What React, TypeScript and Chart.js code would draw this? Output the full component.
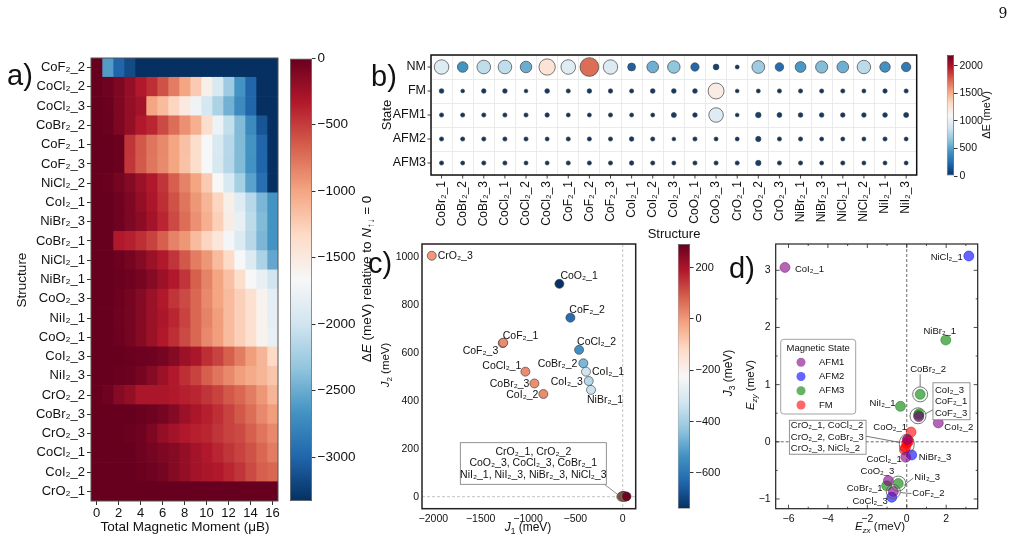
import React, { useEffect, useRef } from 'react';
import { Chart, registerables } from 'chart.js';
Chart.register(...registerables);

const W = 1027, H = 541;
const FONT = '"Liberation Sans", Arial, Helvetica, "DejaVu Sans", sans-serif';
Chart.defaults.font.family = FONT;
Chart.defaults.color = '#111';

// ---------------- panel a: heatmap ----------------
const heatRows = ['CoF₂_2','CoCl₂_2','CoCl₂_3','CoBr₂_2','CoF₂_1','CoF₂_3','NiCl₂_2','CoI₂_1','NiBr₂_3','CoBr₂_1','NiCl₂_1','NiBr₂_1','CoO₂_3','NiI₂_1','CoO₂_1','CoI₂_3','NiI₂_3','CrO₂_2','CoBr₂_3','CrO₂_3','CoCl₂_1','CoI₂_2','CrO₂_1'];
const moments = [0,1,2,3,4,5,6,7,8,9,10,11,12,13,14,15,16];
const momentTicks = [0,2,4,6,8,10,12,14,16];
const heatValues = [
  [0,-2600,-3000,-3165,-3330,-3330,-3330,-3330,-3330,-3330,-3330,-3330,-3330,-3330,-3330,-3330,-3330],
  [0,-33,-100,-200,-333,-433,-600,-800,-1000,-1233,-1566,-1930,-2265,-2665,-3000,-3330,-3330],
  [0,-10,-100,-200,-266,-1000,-1133,-1300,-1500,-1730,-1965,-2200,-2465,-2730,-3000,-3330,-3330],
  [0,-10,-100,-200,-333,-400,-566,-733,-900,-1066,-1366,-1765,-2065,-2400,-2730,-3100,-3330],
  [0,0,-10,-466,-633,-766,-866,-1000,-1166,-1366,-1665,-1930,-2130,-2400,-2665,-3000,-3330],
  [0,0,-10,-470,-640,-770,-870,-1000,-1170,-1370,-1670,-1940,-2140,-2400,-2670,-3000,-3330],
  [0,-10,-67,-133,-233,-333,-466,-666,-833,-1000,-1233,-1665,-1930,-2230,-2565,-2930,-3330],
  [0,0,-33,-100,-200,-300,-433,-600,-766,-933,-1100,-1300,-1566,-1865,-2130,-2430,-2665],
  [0,0,-33,-100,-166,-266,-400,-566,-733,-900,-1066,-1266,-1530,-1800,-2100,-2400,-2665],
  [0,0,-333,-366,-433,-533,-666,-833,-933,-1133,-1300,-1466,-1700,-1900,-2130,-2430,-2665],
  [0,0,-20,-67,-133,-233,-333,-466,-633,-800,-933,-1133,-1333,-1665,-1900,-2200,-2530],
  [0,0,-10,-33,-67,-133,-233,-333,-466,-666,-833,-1000,-1166,-1366,-1665,-1800,-2000],
  [0,0,-20,-67,-133,-233,-333,-466,-566,-700,-866,-1000,-1133,-1266,-1400,-1600,-1830],
  [0,0,-33,-67,-133,-233,-300,-400,-533,-700,-833,-966,-1133,-1266,-1400,-1600,-1830],
  [0,0,-20,-67,-133,-233,-333,-433,-566,-700,-866,-966,-1133,-1266,-1400,-1600,-1800],
  [0,0,0,-10,-20,-33,-67,-133,-233,-300,-433,-533,-666,-800,-966,-1100,-1333],
  [0,0,-10,-20,-67,-133,-233,-333,-433,-533,-666,-766,-866,-966,-1033,-1100,-1200],
  [0,-33,-133,-200,-300,-300,-300,-333,-366,-400,-466,-533,-633,-700,-800,-933,-1100],
  [0,0,0,0,-10,-33,-67,-133,-233,-300,-366,-433,-533,-633,-733,-866,-966],
  [0,0,0,-10,-33,-100,-200,-266,-333,-366,-400,-466,-533,-566,-666,-766,-866],
  [0,0,0,0,-33,-67,-100,-133,-200,-266,-333,-400,-466,-533,-600,-700,-800],
  [0,0,0,0,-10,-33,-67,-133,-200,-266,-300,-333,-400,-466,-566,-666,-700],
  [0,0,0,0,0,0,0,0,0,0,0,0,0,0,0,0,0],
];
const heatMin = -3330, heatMax = 0;
const heatCbTicks = [0,-500,-1000,-1500,-2000,-2500,-3000];

// ---------------- panel b: bubbles ----------------
const bStructures = ['CoBr₂_1','CoBr₂_2','CoBr₂_3','CoCl₂_1','CoCl₂_2','CoCl₂_3','CoF₂_1','CoF₂_2','CoF₂_3','CoI₂_1','CoI₂_2','CoI₂_3','CoO₂_1','CoO₂_3','CrO₂_1','CrO₂_2','CrO₂_3','NiBr₂_1','NiBr₂_3','NiCl₂_1','NiCl₂_2','NiI₂_1','NiI₂_3'];
const bStates = ['NM','FM','AFM1','AFM2','AFM3'];
const bNM   = [950,440,820,820,550,1250,960,1710,940,200,560,660,230,80,20,700,250,460,620,560,800,430,320];
const bFM   = [40,15,35,35,15,40,25,35,30,25,40,40,40,1180,15,20,25,25,25,25,20,30,25];
const bAFM1 = [25,25,25,25,25,30,20,20,25,20,20,50,35,950,15,70,45,40,35,35,35,40,50];
const bAFM2 = [25,25,25,25,25,20,25,25,25,35,25,15,25,20,20,60,25,25,20,20,20,25,20];
const bAFM3 = [25,20,25,25,20,20,25,25,25,30,25,20,25,25,25,65,25,25,20,25,20,20,20];
const bMin = 0, bMax = 2195;
const bCbTicks = [0,500,1000,1500,2000];

// ---------------- panel c: J1 vs J2 ----------------
const cNames = ['CrO₂_3','CoO₂_1','CoF₂_2','CoCl₂_2','CoBr₂_2','CoI₂_1','CoI₂_3','NiBr₂_1','CoF₂_1','CoF₂_3','CoCl₂_1','CoBr₂_3','CoI₂_2','NiCl₂_3','CrO₂_2','CoO₂_3','CoCl₂_3','CoBr₂_1','NiI₂_1','NiI₂_3','NiBr₂_3','CrO₂_1'];
const cJ1 = [-2017,-669,-553,-461,-416,-388,-359,-335,-1267,-1262,-1028,-933,-838,-15,-8,0,5,10,15,20,25,40];
const cJ2 = [1004,887,746,612,556,521,482,445,640,642,521,472,428,0,2,1,3,0,2,1,0,1];
const cJ3 = [0,-735,-620,-540,-460,-327,-370,-338,20,20,20,15,20,-10,0,10,-20,20,0,30,60,280];
const cJ3Min = -740, cJ3Max = 292;
const cJ3Ticks = [200,0,-200,-400,-600];
const cXTicks = [-2000,-1500,-1000,-500,0];
const cYTicks = [0,200,400,600,800,1000];
const cBoxLines = ['CrO₂_1, CrO₂_2','CoO₂_3, CoCl₂_3, CoBr₂_1','NiI₂_1, NiI₂_3, NiBr₂_3, NiCl₂_3'];

// ---------------- panel d: Ezx vs Ezy ----------------
const dStates = ['AFM1','AFM2','AFM3','FM'];
const dNames = ['CoI₂_1','NiCl₂_1','NiBr₂_1','CoBr₂_2','NiI₂_1','CoI₂_3','CoF₂_1','CoF₂_3','CoI₂_2','CoO₂_1','CrO₂_1','CoCl₂_2','CrO₂_2','CoBr₂_3','CrO₂_3','NiCl₂_2','CoCl₂_1','NiBr₂_3','CoO₂_3','CoBr₂_1','NiI₂_3','CoF₂_2','CoCl₂_3'];
const dState = ['AFM1','AFM2','AFM3','AFM3','AFM3','AFM3','AFM3','AFM1','AFM1','FM','FM','FM','FM','FM','FM','AFM1','AFM1','AFM2','AFM1','AFM3','AFM3','AFM1','AFM2'];
const dEzx = [-6.18,3.15,1.98,0.68,-0.32,0.62,0.6,0.61,1.6,0.22,0.05,0.08,0.0,-0.06,-0.12,0.03,-0.05,0.25,-0.93,-1.02,-0.43,-0.68,-0.76];
const dEzy = [3.05,3.25,1.78,0.83,0.62,0.49,0.46,0.44,0.33,0.17,0.03,0.0,-0.03,-0.1,-0.14,0.04,-0.27,-0.23,-0.68,-0.77,-0.73,-0.87,-0.97];
const dXTicks = [-6,-4,-2,0,2];
const dYTicks = [-1,0,1,2,3];
const dStateColors = ['rgba(128,0,128,0.6)','rgba(0,0,255,0.6)','rgba(0,128,0,0.6)','rgba(255,0,0,0.6)'];
const dBoxA = ['CoI₂_3','CoF₂_1','CoF₂_3'];
const dBoxB = ['CrO₂_1, CoCl₂_2','CrO₂_2, CoBr₂_3','CrO₂_3, NiCl₂_2'];

// ---------------- helpers ----------------
const RDBU = [[103,0,31],[178,24,43],[214,96,77],[244,165,130],[253,219,199],[247,247,247],[209,229,240],[146,197,222],[67,147,195],[33,102,172],[5,48,97]];
function rdbu(s: number): string {
  s = Math.max(0, Math.min(1, s));
  const p = s * 10; const i = Math.min(9, Math.floor(p)); const f = p - i;
  const a = RDBU[i], b = RDBU[i + 1];
  return `rgb(${Math.round(a[0] + (b[0] - a[0]) * f)},${Math.round(a[1] + (b[1] - a[1]) * f)},${Math.round(a[2] + (b[2] - a[2]) * f)})`;
}
const fmt = (v: any) => String(v).replace('-', '−');
const fitY = (w: number) => (s: any) => { s.width = w; s.paddingTop = 0; s.paddingBottom = 0; s.paddingLeft = 0; s.paddingRight = 0; };
const fitX = (h: number) => (s: any) => { s.height = h; s.paddingTop = 0; s.paddingBottom = 0; s.paddingLeft = 0; s.paddingRight = 0; };
const setTicks = (vals: number[]) => (s: any) => { s.ticks = vals.map(v => ({ value: v })); };
const pad = (L: number, T: number, R: number, B: number, yw: number, xh: number, yRight = false) => ({
  left: yRight ? L : L - yw, top: T, right: yRight ? W - R - yw : W - R, bottom: H - B - xh,
});
const base = (padding: any) => ({
  responsive: false, animation: false, events: [],
  layout: { padding, autoPadding: false },
  plugins: { legend: { display: false }, tooltip: { enabled: false } },
});
function frame(color: string, width: number) {
  return { id: 'frame', afterDraw(chart: any) {
    const a = chart.chartArea, ctx = chart.ctx;
    ctx.save(); ctx.strokeStyle = color; ctx.lineWidth = width;
    ctx.strokeRect(a.left, a.top, a.right - a.left, a.bottom - a.top); ctx.restore();
  } };
}
function txt(ctx: any, s: string, x: number, y: number, size: number, align = 'left', color = '#111') {
  ctx.font = `${size}px ${FONT}`; ctx.fillStyle = color; ctx.textAlign = align; ctx.textBaseline = 'middle';
  ctx.fillText(s, x, y);
}
function seg(ctx: any, x1: number, y1: number, x2: number, y2: number) {
  ctx.beginPath(); ctx.moveTo(x1, y1); ctx.lineTo(x2, y2); ctx.stroke();
}
const gradientFill = (ctx: any) => {
  const ca = ctx.chart.chartArea;
  if (!ca) return '#ccc';
  const g = ctx.chart.ctx.createLinearGradient(0, ca.top, 0, ca.bottom);
  RDBU.forEach((c, i) => g.addColorStop(i / 10, `rgb(${c.join(',')})`));
  return g;
};
function colorbar(L: number, T: number, R: number, B: number, min: number, max: number, ticks: number[], fs: number) {
  return {
    type: 'bar',
    data: { labels: ['cb'], datasets: [{ data: [[min, max]], backgroundColor: gradientFill, borderColor: '#555', borderWidth: 0.8, borderSkipped: false, barPercentage: 1, categoryPercentage: 1, inflateAmount: 0 }] },
    options: {
      ...base(pad(L, T, R, B, 50, 0, true)),
      scales: {
        x: { display: false },
        y: { position: 'right', min, max, afterBuildTicks: setTicks(ticks), afterFit: fitY(50),
          grid: { drawOnChartArea: false, drawTicks: true, tickLength: 3.5, color: '#333' }, border: { display: false },
          ticks: { font: { size: fs }, padding: 2, color: '#111', callback: fmt } },
      },
    },
  };
}

// ---------------- chart configs ----------------
function makeHeat() {
  return {
    type: 'bar',
    data: {
      labels: heatRows,
      datasets: moments.map((m, c) => ({
        data: heatRows.map(() => [m - 0.5, m + 0.5]),
        backgroundColor: heatRows.map((_, r) => rdbu(heatValues[r][c] / heatMin)),
        borderWidth: 0, grouped: false, barPercentage: 1, categoryPercentage: 1,
      })),
    },
    options: {
      ...base(pad(91, 58, 278, 501, 86, 30)),
      indexAxis: 'y',
      scales: {
        x: { type: 'linear', min: -0.5, max: 16.5, afterBuildTicks: setTicks(momentTicks), afterFit: fitX(30),
          grid: { drawOnChartArea: false, drawTicks: true, tickLength: 4, color: '#333' }, border: { display: false },
          ticks: { font: { size: 13 }, padding: 1, maxRotation: 0, color: '#111' } },
        y: { type: 'category', offset: true, afterFit: fitY(86),
          grid: { offset: false, drawOnChartArea: false, drawTicks: true, tickLength: 4, color: '#333' }, border: { display: false },
          ticks: { font: { size: 13 }, padding: 2, autoSkip: false, color: '#111' } },
      },
    },
    plugins: [frame('#555', 1)],
  };
}

function makeBubble() {
  const rows = [bNM, bFM, bAFM1, bAFM2, bAFM3];
  return {
    type: 'bubble',
    data: {
      datasets: rows.map((vals, si) => ({
        data: vals.map((v, i) => ({ x: bStructures[i], y: bStates[si], r: 1.1 + 0.2 * Math.sqrt(v), v })),
        backgroundColor: (ctx: any) => rdbu(1 - (ctx.raw ? ctx.raw.v : 0) / bMax),
        borderColor: '#444', borderWidth: 0.7,
      })),
    },
    options: {
      ...base(pad(431, 55, 916.7, 175, 45, 60)),
      scales: {
        x: { type: 'category', labels: bStructures, offset: true, afterFit: fitX(60),
          grid: { offset: true, drawTicks: false, color: '#e6e6e6', lineWidth: 0.8 }, border: { display: false },
          ticks: { autoSkip: false, minRotation: 90, maxRotation: 90, font: { size: 12 }, padding: 6, color: '#111' } },
        y: { type: 'category', labels: bStates, offset: true, afterFit: fitY(45),
          grid: { offset: true, drawTicks: false, color: '#e6e6e6', lineWidth: 0.8 }, border: { display: false },
          ticks: { font: { size: 12.5 }, padding: 5, color: '#111' } },
      },
    },
    plugins: [frame('#111', 1.5), { id: 'bticks', afterDraw(chart: any) {
      const { ctx, chartArea: a, scales: { x, y } } = chart;
      ctx.save(); ctx.strokeStyle = '#111'; ctx.lineWidth = 0.8;
      bStructures.forEach((_, i) => { const px = x.getPixelForValue(i); seg(ctx, px, a.bottom, px, a.bottom + 3.5); });
      bStates.forEach((_, i) => { const py = y.getPixelForValue(i); seg(ctx, a.left - 3.5, py, a.left, py); });
      ctx.restore();
    } }],
  };
}

const cLabelPos: any = {
  'CrO₂_3': [6, 0, 'left'], 'CoO₂_1': [1, -8, 'left'], 'CoF₂_2': [-1, -8, 'left'], 'CoCl₂_2': [-2, -8, 'left'],
  'CoBr₂_2': [-6, 1, 'right'], 'CoI₂_1': [6, 0, 'left'], 'CoI₂_3': [-6, 1, 'right'], 'NiBr₂_1': [-4, 10, 'left'],
  'CoF₂_1': [0, -7, 'left'], 'CoF₂_3': [-5, 8, 'right'], 'CoCl₂_1': [-4, -6, 'right'], 'CoBr₂_3': [-5, 1, 'right'], 'CoI₂_2': [-5, 1, 'right'],
};
function makeScatterC() {
  return {
    type: 'scatter',
    data: { datasets: [{
      data: cNames.map((_, i) => ({ x: cJ1[i], y: cJ2[i] })),
      pointBackgroundColor: cJ3.map(j => rdbu(1 - (j - cJ3Min) / (cJ3Max - cJ3Min))),
      pointBorderColor: '#333', pointBorderWidth: 0.6, pointRadius: 4.5,
    }] },
    options: {
      ...base(pad(422, 244, 635.7, 508.7, 60, 30)),
      scales: {
        x: { type: 'linear', min: -2120, max: 137, afterBuildTicks: setTicks(cXTicks), afterFit: fitX(30),
          grid: { display: false, drawTicks: false }, border: { display: false },
          ticks: { font: { size: 10.5 }, padding: 4, maxRotation: 0, color: '#111', callback: fmt } },
        y: { type: 'linear', min: -50, max: 1053, afterBuildTicks: setTicks(cYTicks), afterFit: fitY(60),
          grid: { display: false, drawTicks: false }, border: { display: false },
          ticks: { font: { size: 10.5 }, padding: 3, color: '#111', callback: fmt } },
      },
    },
    plugins: [frame('#222', 1.5), {
      id: 'cAnnot',
      beforeDatasetsDraw(chart: any) {
        const { ctx, chartArea: a, scales: { x, y } } = chart;
        ctx.save(); ctx.strokeStyle = '#bbb'; ctx.lineWidth = 0.9; ctx.setLineDash([3, 2]);
        const x0 = x.getPixelForValue(0), y0 = y.getPixelForValue(0);
        seg(ctx, x0, a.top, x0, a.bottom); seg(ctx, a.left, y0, a.right, y0);
        ctx.restore();
      },
      afterDatasetsDraw(chart: any) {
        const ctx = chart.ctx; const pts = chart.getDatasetMeta(0).data;
        ctx.save();
        cNames.forEach((n, i) => {
          const p = cLabelPos[n]; if (!p) return;
          txt(ctx, n, pts[i].x + p[0], pts[i].y + p[1], 10.5, p[2]);
        });
        const anchor = pts[cNames.indexOf('NiCl₂_3')];
        const bx = anchor.x - 161, by = anchor.y - 54, bw = 146, bh = 41.6;
        ctx.strokeStyle = '#777'; ctx.lineWidth = 0.8;
        seg(ctx, bx + bw - 2, by + bh, anchor.x - 2, anchor.y - 1);
        ctx.fillStyle = '#fff'; ctx.fillRect(bx, by, bw, bh); ctx.strokeRect(bx, by, bw, bh);
        cBoxLines.forEach((l, k) => txt(ctx, l, bx + bw / 2, by + 9.5 + k * 11.3, 10.5, 'center'));
        ctx.restore();
      },
    }],
  };
}

const dLabelPos: any = {
  'CoI₂_1': [10, 2, 'left'], 'NiCl₂_1': [-6, 1, 'right'], 'NiBr₂_1': [-6, -9, 'center'], 'CoBr₂_2': [8, -25, 'center'],
  'NiI₂_1': [-5, -3, 'right'], 'CoI₂_2': [6, 4, 'left'], 'CoO₂_1': [-4, -5, 'right'], 'CoCl₂_1': [-4, 2, 'right'],
  'NiBr₂_3': [7, 2, 'left'], 'CoO₂_3': [-11, -9, 'center'], 'NiI₂_3': [16, -6, 'left'], 'CoBr₂_1': [-4, 3, 'right'],
  'CoF₂_2': [19, 2, 'left'], 'CoCl₂_3': [-4, 4, 'right'],
};
function makeScatterD() {
  return {
    type: 'scatter',
    data: { datasets: dStates.map((st, si) => ({
      label: st,
      data: dNames.map((n, i) => ({ x: dEzx[i], y: dEzy[i], n, s: dState[i] })).filter(p => p.s === st),
      pointBackgroundColor: dStateColors[si], pointBorderColor: dStateColors[si], pointBorderWidth: 0.8, pointRadius: 5,
    })) },
    options: {
      ...base(pad(775.7, 244, 977.7, 508.7, 40, 30)),
      scales: {
        x: { type: 'linear', min: -6.65, max: 3.6, afterBuildTicks: setTicks(dXTicks), afterFit: fitX(30),
          grid: { display: false, drawTicks: false }, border: { display: false },
          ticks: { font: { size: 10.5 }, padding: 4, maxRotation: 0, color: '#111', callback: fmt } },
        y: { type: 'linear', min: -1.17, max: 3.46, afterBuildTicks: setTicks(dYTicks), afterFit: fitY(40),
          grid: { display: false, drawTicks: false }, border: { display: false },
          ticks: { font: { size: 10.5 }, padding: 5, color: '#111', callback: fmt } },
      },
    },
    plugins: [frame('#222', 1.2), {
      id: 'dAnnot',
      beforeDatasetsDraw(chart: any) {
        const { ctx, chartArea: a, scales: { x, y } } = chart;
        ctx.save(); ctx.strokeStyle = '#444'; ctx.lineWidth = 0.8; ctx.setLineDash([3, 2]);
        const x0 = x.getPixelForValue(0), y0 = y.getPixelForValue(0);
        seg(ctx, x0, a.top, x0, a.bottom); seg(ctx, a.left, y0, a.right, y0);
        ctx.restore();
      },
      afterDatasetsDraw(chart: any) {
        const { ctx, chartArea: a, scales: { x, y } } = chart;
        const pos: any = {};
        chart.data.datasets.forEach((ds: any, di: number) => {
          const meta = chart.getDatasetMeta(di);
          ds.data.forEach((p: any, k: number) => { pos[p.n] = { x: meta.data[k].x, y: meta.data[k].y }; });
        });
        ctx.save();
        // inward ticks on all sides
        ctx.strokeStyle = '#222'; ctx.lineWidth = 0.8;
        for (let v = -6; v <= 3; v++) {
          const px = x.getPixelForValue(v), L = v % 2 === 0 ? 4 : 2;
          seg(ctx, px, a.bottom, px, a.bottom - L); seg(ctx, px, a.top, px, a.top + L);
        }
        for (let v = -1; v <= 3; v += 0.5) {
          const py = y.getPixelForValue(v), L = Number.isInteger(v) ? 4 : 2;
          seg(ctx, a.left, py, a.left + L, py); seg(ctx, a.right, py, a.right - L, py);
        }
        // labels
        dNames.forEach(n => {
          const p = dLabelPos[n]; if (!p) return;
          txt(ctx, n, pos[n].x + p[0], pos[n].y + p[1], 9.5, p[2]);
        });
        // rings and connectors
        ctx.strokeStyle = '#555'; ctx.lineWidth = 0.8;
        const ring = (cx: number, cy: number, rx: number, ry: number) => { ctx.beginPath(); ctx.ellipse(cx, cy, rx, ry, 0, 0, Math.PI * 2); ctx.stroke(); };
        const cb = pos['CoBr₂_2']; ring(cb.x, cb.y, 7.5, 7.5); seg(ctx, cb.x, cb.y - 20, cb.x, cb.y - 7.5);
        const ci = pos['CoI₂_3']; const gx = ci.x - 1, gy = ci.y + 2; ring(gx, gy, 8, 8);
        const ni = pos['NiI₂_3']; ring(ni.x, ni.y, 7.5, 7.5); seg(ctx, ni.x + 15, ni.y - 5.5, ni.x + 5.5, ni.y + 2);
        const cf = pos['CoF₂_2']; ring(cf.x, cf.y, 7, 7); seg(ctx, cf.x + 18, cf.y + 2, cf.x + 7, cf.y + 1);
        const cr = pos['CrO₂_2']; const ex = cr.x, ey = cr.y + 0.5; ring(ex, ey, 7.5, 10);
        // box A (CoI2_3 group)
        const ax = gx + 15, ay = gy - 33, aw = 37, ah = 37;
        seg(ctx, ax, ay + 27, gx + 7.5, gy - 2);
        ctx.fillStyle = '#fff'; ctx.strokeStyle = '#777'; ctx.fillRect(ax, ay, aw, ah); ctx.strokeRect(ax, ay, aw, ah);
        dBoxA.forEach((l, k) => txt(ctx, l, ax + 2, ay + 7.7 + k * 11.2, 9.5, 'left'));
        // box B (central cluster)
        const bx = ex - 117.4, by = ey - 23.8, bw = 76.7, bh = 34;
        ctx.strokeStyle = '#555'; seg(ctx, bx + bw, by + 16, ex - 6.5, ey - 1.5);
        ctx.fillStyle = '#fff'; ctx.strokeStyle = '#777'; ctx.fillRect(bx, by, bw, bh); ctx.strokeRect(bx, by, bw, bh);
        dBoxB.forEach((l, k) => txt(ctx, l, bx + 1.5, by + 5 + k * 11.7, 9.5, 'left'));
        // legend
        const lx = a.left + 5, ly = a.top + 95.3, lw = 75, lh = 74.7;
        ctx.fillStyle = '#fff'; ctx.strokeStyle = '#999'; ctx.lineWidth = 0.9;
        ctx.beginPath(); ctx.roundRect(lx, ly, lw, lh, 3); ctx.fill(); ctx.stroke();
        txt(ctx, 'Magnetic State', lx + lw / 2, ly + 8.6, 9.5, 'center');
        chart.data.datasets.forEach((ds: any, i: number) => {
          const yy = ly + 23 + i * 14.25;
          ctx.fillStyle = ds.pointBackgroundColor; ctx.beginPath(); ctx.arc(lx + 20.3, yy, 4.5, 0, Math.PI * 2); ctx.fill();
          txt(ctx, ds.label, lx + 38.3, yy, 9.5, 'left');
        });
        ctx.restore();
      },
    }],
  };
}

// ---------------- React ----------------
function ChartCanvas({ make }: { make: () => any }) {
  const ref = useRef<HTMLCanvasElement>(null);
  useEffect(() => {
    const chart = new Chart(ref.current as HTMLCanvasElement, make());
    return () => chart.destroy();
  }, []);
  return <canvas ref={ref} width={W} height={H} style={{ position: 'absolute', left: 0, top: 0, width: W, height: H }} />;
}

const Sub = ({ children }: any) => <span style={{ fontSize: '0.7em', verticalAlign: '-0.3em', lineHeight: 0 }}>{children}</span>;
function Label({ x, y, size, rotate, children, family }: any) {
  return (
    <div style={{ position: 'absolute', left: x, top: y, transform: `translate(-50%,-50%)${rotate ? ' rotate(-90deg)' : ''}`,
      fontFamily: family || FONT, fontSize: size, whiteSpace: 'nowrap', lineHeight: 1, color: '#111' }}>{children}</div>
  );
}

export default function App() {
  return (
    <div style={{ position: 'absolute', left: 0, top: 0, width: W, height: H, background: '#fff', overflow: 'hidden' }}>
      <ChartCanvas make={makeHeat} />
      <ChartCanvas make={() => colorbar(290, 58, 312, 501, heatMin, heatMax, heatCbTicks, 13.5)} />
      <ChartCanvas make={makeBubble} />
      <ChartCanvas make={() => colorbar(946.7, 55, 954, 176, bMin, bMax, bCbTicks, 10.5)} />
      <ChartCanvas make={makeScatterC} />
      <ChartCanvas make={() => colorbar(677.7, 244, 690, 508.7, cJ3Min, cJ3Max, cJ3Ticks, 11)} />
      <ChartCanvas make={makeScatterD} />

      <Label x={1003} y={13} size={14} family={'"DejaVu Serif", "Liberation Serif", serif'}>9</Label>
      <Label x={20} y={75} size={29}>a)</Label>
      <Label x={384} y={76} size={29}>b)</Label>
      <Label x={380} y={263} size={29}>c)</Label>
      <Label x={742} y={268} size={29}>d)</Label>

      <Label x={22} y={280} size={13.5} rotate>Structure</Label>
      <Label x={185} y={527} size={13.5}>Total Magnetic Moment (μB)</Label>
      <Label x={367} y={279} size={13.5} rotate>Δ<i>E</i> (meV) relative to <i>N</i><Sub>↑↓</Sub> = 0</Label>

      <Label x={386} y={115} size={13} rotate>State</Label>
      <Label x={674} y={233} size={13}>Structure</Label>
      <Label x={986} y={115} size={11} rotate>ΔE (meV)</Label>

      <Label x={386} y={365} size={11.5} rotate><i>J</i><Sub>2</Sub> (meV)</Label>
      <Label x={528} y={527} size={12}><i>J</i><Sub>1</Sub> (meV)</Label>
      <Label x={728} y={373} size={12} rotate><i>J</i><Sub>3</Sub> (meV)</Label>

      <Label x={751} y={385} size={11.5} rotate><i>E</i><Sub><i>zy</i></Sub> (meV)</Label>
      <Label x={880} y={527} size={11.5}><i>E</i><Sub><i>zx</i></Sub> (meV)</Label>
    </div>
  );
}
